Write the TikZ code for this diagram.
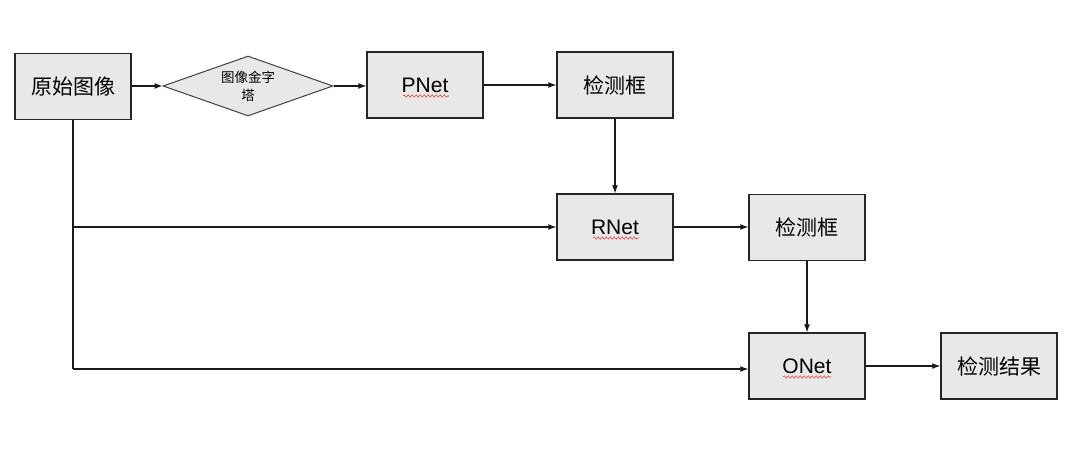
\documentclass[tikz,border=0pt]{standalone}
\usepackage{fontspec}
\setmainfont{Liberation Sans}
\newfontfamily\cjk{Noto Sans CJK SC}
\usetikzlibrary{shapes.geometric,arrows.meta,decorations.pathmorphing}
\definecolor{boxfill}{HTML}{E8E8E8}
\definecolor{squig}{HTML}{E0403A}
\begin{document}
\begin{tikzpicture}[x=1pt,y=-1pt,
  boxnode/.style={draw=black!85,line width=1.4pt,fill=boxfill,minimum width=116pt,minimum height=66pt,inner sep=0pt,font=\fontsize{21}{25}\selectfont},
  dia/.style={draw=black!75,line width=1pt,fill=boxfill,diamond,aspect=2.83,minimum width=170pt,minimum height=60pt,inner sep=0pt,align=center,font=\cjk\fontsize{13.5}{18}\selectfont},
  conn/.style={line width=1.1pt,draw=black!90},
  arr/.style={conn,-{Latex[length=8pt,width=6pt]}},
  wavy/.style={draw=squig,line width=0.6pt,decorate,decoration={snake,amplitude=1.1pt,segment length=4pt}}
]
\useasboundingbox (0,0) rectangle (1080,452);
\fill[white] (0,0) rectangle (1080,452);
\node[boxnode] (src) at (73,86.5) {\cjk 原始图像};
\node[dia] (pyr) at (248,86) {图像金字\\塔};
\node[boxnode] (pnet) at (425,85) {PNet};
\node[boxnode] (det1) at (615,85) {\cjk 检测框};
\node[boxnode] (rnet) at (615,227) {RNet};
\node[boxnode] (det2) at (807,227.5) {\cjk 检测框};
\node[boxnode] (onet) at (807,366) {ONet};
\node[boxnode] (res) at (999,366) {\cjk 检测结果};
\coordinate (j1) at (73,227);
\coordinate (j2) at (73,369);
\draw[arr] (src.east |- pyr.west) -- (pyr.west);
\draw[arr] (pyr.east) -- (pnet.west |- pyr.east);
\draw[arr] (pnet.east) -- (det1.west);
\draw[arr] (det1.south) -- (rnet.north);
\draw[arr] (rnet.east) -- (det2.west |- rnet.east);
\draw[arr] (det2.south) -- (onet.north);
\draw[arr] (onet.east) -- (res.west);
\draw[conn] (src.south) -- (j2);
\draw[arr] (j1) -- (rnet.west |- j1);
\draw[arr] (j2) -- (onet.west |- j2);
\draw[wavy] (403,96) -- (449,96);
\draw[wavy] (593,238) -- (639,238);
\draw[wavy] (783,377) -- (831,377);
\end{tikzpicture}
\end{document}
